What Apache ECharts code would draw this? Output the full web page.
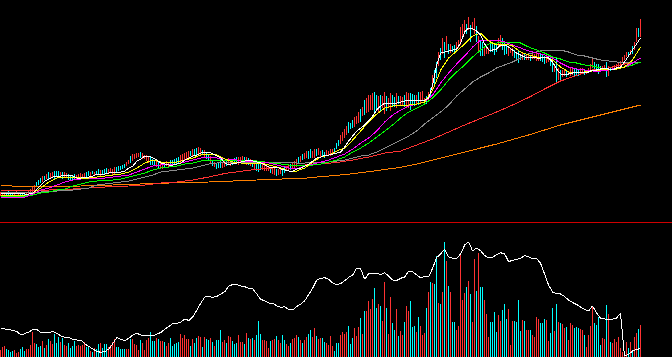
<!DOCTYPE html>
<html>
<head>
<meta charset="utf-8">
<script src="https://cdn.jsdelivr.net/npm/echarts@6/dist/echarts.min.js"></script>
<style>
html,body{margin:0;padding:0;background:#000;overflow:hidden;}
#chart{width:672px;height:357px;}
#chart svg path, #chart svg line, #chart svg rect, #chart svg polyline { shape-rendering: crispEdges; }
</style>
</head>
<body>
<div id="chart"></div>
<script>
// ---- candle data (price units, one entry per trading day) ----
const open = [
27,27,26,30,31,30,29,27,29,28, 29,29,29,27,28,29,28,32,40,42,
44,41,46,44,50,44,46,51,51,51, 45,50,46,45,48,46,47,48,43,44,
45,44,44,50,51,47,51,47,51,53, 47,52,53,54,49,50,48,49,55,56,
56,57,58,57,59,66,62,64,65,66, 70,64,64,62,60,65,63,62,56,61,
55,54,60,57,55,62,62,63,64,65, 60,62,62,64,65,71,67,73,74,69,
68,72,66,70,67,60,62,56,59,60, 63,55,56,62,58,57,63,64,65,58,
60,61,65,58,64,57,62,54,59,61, 60,53,52,52,52,55,49,48,53,48,
49,54,55,52,53,58,54,55,56,65, 61,68,64,65,71,73,65,65,73,68,
65,72,70,67,67,67,69,74,79,82, 79,82,85,88,100,99,102,96,99,100,
113,107,122,110,111,113,113,130,127,111, 127,115,109,126,116,112,127,125,115,126,
117,117,127,115,115,129,128,127,119,130, 120,123,119,126,122,134,133,152,160,157,
174,169,180,173,178,170,176,177,174,175, 178,187,191,198,193,197,193,189,196,171,
182,180,167,169,169,178,178,178,177,175, 176,184,180,178,167,170,167,172,170,172,
168,163,169,163,163,167,164,164,162,162, 169,168,166,160,161,164,162,151,165,143,
152,146,147,152,148,147,148,153,153,152, 148,149,152,149,150,151,155,160,158,158,
156,152,152,160,147,155,153,153,154,156, 158,161,163,166,170,168,176,173,181,194,
186];
const close = [
30,30,30,27,28,28,26,30,31,30, 26,25,26,30,31,33,35,37,36,38,
40,46,43,48,44,49,50,44,46,45, 50,44,50,49,43,43,43,43,47,48,
49,48,49,46,47,50,49,50,48,49, 52,49,49,50,53,54,53,55,51,52,
53,54,55,60,62,60,68,68,69,69, 65,69,67,67,66,58,58,57,62,55,
60,59,55,61,60,56,58,59,59,60, 67,68,69,70,71,67,73,68,68,75,
74,68,72,64,62,66,57,60,54,55, 55,60,61,57,64,63,58,60,60,65,
65,66,61,65,58,63,56,59,52,51, 53,58,57,57,55,50,54,54,47,53,
54,47,50,56,57,53,60,61,63,59, 66,63,69,71,64,65,71,73,67,74,
71,66,65,72,71,73,73,71,74,77, 87,90,93,96,90,94,95,105,106,110,
101,115,108,124,127,127,129,111,113,126, 112,126,130,112,124,129,116,116,129,119,
126,125,116,130,129,113,118,117,127,118, 130,131,124,119,130,126,147,137,145,170,
163,184,165,186,169,178,171,171,180,182, 195,198,202,189,205,181,200,204,181,186,
167,167,176,176,174,171,171,168,171,184, 187,173,168,169,176,174,174,165,163,160,
163,170,163,168,168,162,168,168,170,169, 162,161,159,166,164,157,151,158,141,154,
143,152,152,146,151,154,154,147,147,147, 154,154,148,151,154,158,164,153,151,149,
151,156,157,146,156,152,156,157,158,159, 161,165,167,170,168,172,169,180,194,186,
203];
const low = [
26,26,25,26,27,27,25,26,28,27, 25,24,25,26,27,28,27,31,35,37,
39,40,42,43,43,43,45,43,45,44, 44,43,45,44,42,42,42,42,42,43,
44,43,43,45,46,46,48,46,47,48, 46,48,48,49,48,49,47,48,50,51,
52,53,54,56,58,59,61,63,64,65, 64,63,63,61,59,57,57,56,55,54,
54,53,54,56,54,55,57,58,58,59, 59,61,61,63,64,66,66,67,67,68,
67,67,65,63,61,59,56,55,53,54, 54,54,55,56,57,56,57,59,59,57,
59,60,60,57,57,56,55,53,51,50, 52,52,51,51,51,49,48,47,46,47,
48,46,49,51,52,52,53,54,55,58, 60,62,63,64,63,64,64,64,66,67,
64,65,64,66,66,66,68,70,73,76, 78,81,84,87,89,93,94,95,98,99,
100,106,107,109,110,112,112,110,112,110, 111,114,108,111,115,111,115,115,114,118,
116,116,115,114,114,112,117,116,118,117, 119,122,118,118,121,125,132,136,144,156,
162,168,164,172,168,169,170,170,173,174, 177,186,190,188,192,180,192,188,180,170,
166,166,166,168,168,170,170,167,170,174, 175,172,167,168,166,169,166,164,162,159,
162,162,162,162,162,161,163,163,161,161, 161,160,158,159,160,156,150,150,140,142,
142,145,146,145,147,146,147,146,146,146, 147,148,147,148,149,150,154,152,150,148,
150,151,151,145,146,151,152,152,153,155, 157,160,162,165,167,167,168,172,180,185,
185];
const high = [
30,30,30,30,31,30,29,30,31,30, 29,29,29,30,31,33,35,37,40,42,
44,46,46,48,50,49,50,51,51,51, 50,50,50,49,48,46,47,48,47,48,
49,48,49,50,51,50,51,50,51,53, 52,52,53,54,53,54,53,55,55,56,
56,57,58,60,62,66,68,68,69,69, 70,69,67,67,66,65,63,62,62,61,
60,59,60,61,60,62,62,63,64,65, 67,68,69,70,71,71,73,73,74,75,
74,72,72,70,67,66,62,60,59,60, 63,60,61,62,64,63,63,64,65,65,
65,66,65,65,64,63,62,59,59,61, 60,58,57,57,55,55,54,54,53,53,
54,54,55,56,57,58,60,61,63,65, 66,68,69,71,71,73,71,73,73,74,
71,72,70,72,71,73,73,74,79,82, 87,90,93,96,100,99,102,105,106,110,
113,115,122,124,127,127,129,130,127,126, 127,126,130,126,124,129,127,125,129,126,
126,125,127,130,129,129,128,127,127,130, 130,131,124,126,130,134,147,152,160,170,
174,184,180,186,178,178,176,177,180,182, 195,198,202,198,205,197,200,204,196,186,
182,180,176,176,174,178,178,178,177,184, 187,184,180,178,176,174,174,172,170,172,
168,170,169,168,168,167,168,168,170,169, 169,168,166,166,164,164,162,158,165,154,
152,152,152,152,151,154,154,153,153,152, 154,154,152,151,154,158,164,160,158,158,
156,156,157,160,156,155,156,157,158,159, 161,165,167,170,170,172,176,180,194,194,
203];
const volume = [
7,10,11,8,7,5,6,7,4,5, 8,10,6,8,8,12,25,14,13,10,
11,16,9,12,18,16,13,23,14,20, 15,19,12,11,14,9,11,16,11,12,
11,12,15,10,10,6,5,9,8,13, 14,9,13,13,10,12,15,18,10,10,
8,8,8,8,8,18,18,13,12,7, 17,14,7,17,19,25,16,16,19,18,
16,16,15,11,14,19,11,13,14,15, 23,19,22,18,18,11,18,14,19,21,
20,10,20,18,17,19,15,11,17,17, 27,15,17,14,21,20,16,13,14,22,
15,15,13,24,19,18,19,17,22,36, 23,17,17,16,9,16,17,18,21,17,
14,22,17,13,11,14,18,19,22,20, 17,14,17,20,23,27,20,29,21,18,
19,19,15,14,12,21,11,6,14,14, 22,25,23,25,31,13,19,29,21,30,
39,23,46,46,56,48,58,69,49,53, 51,36,75,49,23,60,34,27,48,21,
26,22,35,51,46,56,30,31,25,40, 31,22,24,49,65,75,74,73,101,54,
53,65,115,96,71,65,35,35,27,31, 103,57,64,70,76,63,35,98,66,104,
70,70,57,43,20,35,35,45,25,42, 36,47,53,38,48,12,36,36,35,57,
26,37,36,27,27,27,22,20,40,38, 34,34,38,37,16,24,49,26,53,35,
34,33,29,30,17,34,32,29,30,29, 28,27,22,10,22,31,51,34,32,40,
12,19,18,52,43,15,14,18,15,20, 9,5,2,15,9,15,5,20,24,28,
32];

// ---- moving averages, read every few days ----
const ma5Step = 2;
const ma5 = [
29,29,29,29,29,29,28,28,29,33, 37,41,43,45,46,46,47,47,46,44,
44,45,45,46,48,48,48,49,50,50, 50,51,54,56,61,63,66,66,64,62,
59,58,57,57,58,59,62,64,66,67, 69,70,70,68,66,64,59,57,59,59,
60,61,62,61,60,59,57,55,55,55, 53,52,51,51,53,54,56,58,61,64,
65,67,67,68,69,70,75,81,86,91, 94,97,101,106,112,116,119,119,119,119,
120,121,122,122,122,122,122,124,137,157, 169,170,171,172,173,179,190,194,193,191,
187,178,172,172,173,177,177,175,172,169, 167,165,165,165,164,164,165,164,160,153,
148,147,148,149,150,150,149,150,152,152, 153,154,153,152,154,155,160,166,172,178,
184];
const maStep = 4;
const ma10 = [
27,27,27,27,29,34,40,44,45,45, 44,44,45,46,47,48,50,54,59,62,
60,59,60,62,64,67,68,67,63,60, 59,59,59,58,56,54,51,51,54,60,
65,67,71,74,82,91,100,108,114,116, 117,117,118,120,132,152,164,171,178,186,
189,181,177,178,176,170,167,165,165,162, 155,150,149,150,151,152,153,153,155,162,
175];
const ma20 = [
25,25,25,25,28,32,34,37,40,42, 43,44,44,44,45,46,47,50,53,56,
57,58,58,60,62,64,65,64,63,63, 61,61,60,60,58,56,54,53,56,58,
60,62,65,68,73,79,84,91,100,107, 112,116,118,120,127,139,149,158,166,175,
182,182,182,180,177,174,171,169,167,164, 159,155,153,152,151,151,152,154,155,159,
164];
const ma30 = [
26,26,26,26,27,29,30,32,33,36, 38,40,41,42,42,43,45,47,49,52,
54,55,56,58,59,61,62,62,62,62, 62,62,61,60,59,58,57,57,57,57,
58,60,62,65,70,74,79,85,91,97, 104,110,114,118,124,132,142,150,157,165,
172,178,179,180,180,179,175,172,169,165, 163,160,159,157,156,154,152,153,155,157,
160];
const ma60 = [
30,30,30,30,30,30,31,31,32,32, 33,34,37,38,39,40,41,43,45,47,
50,51,52,53,54,56,58,59,60,60, 60,60,60,60,60,60,60,59,59,60,
60,60,61,62,64,66,67,70,74,78, 82,86,91,98,104,110,117,126,133,140,
145,149,154,157,160,164,168,170,172,172, 172,170,167,166,164,162,161,160,160,160,
160];
const longStep = 8;
const ma120 = [
31,31.5,32,32,32.5,33.5,34.5,35.5,36,37, 39,40,42,45,48.5,50.7,52.7,54,56,57,
58,59.5,62,65,69,71,77,83,90,97, 103.5,110,117,124.5,133,141,146.5,152,154,158,
160];
const ma250 = [
37,35.5,35.5,35.5,35.7,36,36.5,37,37.5,38.2, 38.8,39.2,39.5,40,40.7,41.3,42,42.7,43.2,43.8,
45.3,46.7,48.3,50.3,52.5,54.7,58,62,66,70, 74,78,82.5,87,92,97,101,105,109,113,
117];

// ---- lower panel indicator line, read every 2 days ----
const indStep = 2;
const indicator = [
29,28,27.5,26.5,25.5,22,23.5,25,27.5,27.5, 24.3,24.3,24.3,25.5,23.5,21,19.7,19.7,17.5,17,
16.7,13,10.5,8,5.5,4.7,5.5,8,13.5,19.5, 17.5,16.5,18.7,22,23.7,22,22,22,21,23,
24.5,28,30.3,33.7,33.5,35,38,36.5,40.3,47, 54,60,60.3,59.7,60.5,63,65.3,71,72.5,72.5,
71,70.3,68.7,68,63,57.5,56.3,54,54,51, 49.7,50.3,47.5,47,50.5,53,56.3,62.5,69,77,
78.7,79.3,77.5,74,72.5,73.5,76.3,79.7,82,89, 88,77.7,83.7,83.5,83.5,82.5,84.3,81,77,76.5,
78.7,80,86,85,82,79,81,80,89,99.5, 103,108,100,98.7,98.7,103,112,115,106,109,
106.3,101.5,99,99.7,102.5,104.3,103,95.5,96.5,97.7, 98.7,101.5,100.3,98,98.5,93.7,83,72,65,63.3,
63,60.5,57,54.5,52.5,50,47.5,46,51,44, 38.7,38,37.7,37.7,39,43.5,1,2.5,6,7.5,
8.5];

const N = open.length;
const categories = open.map((_, i) => String(i + 1));

// sanity checks
const checks = [['close',close,N],['low',low,N],['high',high,N],['volume',volume,N],
  ['ma5',ma5,(N-1)/ma5Step+1],['ma10',ma10,(N-1)/maStep+1],['ma20',ma20,(N-1)/maStep+1],
  ['ma30',ma30,(N-1)/maStep+1],['ma60',ma60,(N-1)/maStep+1],['ma120',ma120,(N-1)/longStep+1],
  ['ma250',ma250,(N-1)/longStep+1],['indicator',indicator,(N-1)/indStep+1]];
checks.forEach(([n,a,e]) => { if (a.length !== e) throw new Error(n + ' length ' + a.length + ' expected ' + e); });

const UP = '#ff3232', DOWN = '#00ffff';
const sampled = (vals, step) => vals.map((v, k) => [k * step, v]);
const maLine = (vals, step, color) => ({
  type: 'line', xAxisIndex: 0, yAxisIndex: 0, data: sampled(vals, step),
  symbol: 'none', silent: true, z: 3,
  lineStyle: { color: color, width: 1 }
});

const chart = echarts.init(document.getElementById('chart'), null, { renderer: 'svg' });
chart.setOption({
  backgroundColor: '#000000',
  animation: false,
  grid: [
    { left: -0.5, top: 0, width: N * 2, height: 222 },
    { left: -0.5, top: 224, width: N * 2, height: 133 }
  ],
  xAxis: [
    { type: 'category', gridIndex: 0, data: categories, boundaryGap: true, show: false },
    { type: 'category', gridIndex: 1, data: categories, boundaryGap: true, show: false }
  ],
  yAxis: [
    { type: 'value', gridIndex: 0, min: 0, max: 222, show: false },
    { type: 'value', gridIndex: 1, min: 0, max: 133, show: false }
  ],
  graphic: [{
    type: 'line', z: 100, silent: true,
    shape: { x1: 0, y1: 222.5, x2: 672, y2: 222.5 },
    style: { stroke: '#d00000', lineWidth: 1 }
  }],
  series: [
    {
      type: 'candlestick', xAxisIndex: 0, yAxisIndex: 0, z: 2,
      data: open.map((o, i) => [o, close[i], low[i], high[i]]),
      barWidth: 0.1,
      itemStyle: { color: UP, color0: DOWN, borderColor: UP, borderColor0: DOWN, borderWidth: 1 }
    },
    maLine(ma250, longStep, '#ff8000'),
    maLine(ma120, longStep, '#ff3232'),
    maLine(ma60, maStep, '#8c8c8c'),
    maLine(ma30, maStep, '#00ff00'),
    maLine(ma20, maStep, '#ff00ff'),
    maLine(ma10, maStep, '#ffff00'),
    maLine(ma5, ma5Step, '#ffffff'),
    {
      type: 'bar', xAxisIndex: 1, yAxisIndex: 1, barWidth: 1,
      data: volume.map((v, i) => ({ value: v, itemStyle: { color: close[i] >= open[i] ? UP : DOWN } }))
    },
    {
      type: 'line', xAxisIndex: 1, yAxisIndex: 1, data: sampled(indicator, indStep),
      symbol: 'none', silent: true, z: 3, lineStyle: { color: '#ffffff', width: 1 }
    }
  ]
});
</script>
</body>
</html>
